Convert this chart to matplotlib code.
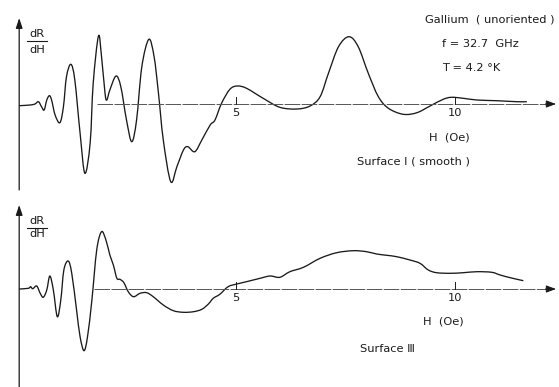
import numpy as np
import matplotlib
matplotlib.use("Agg")
import matplotlib.pyplot as plt
from matplotlib.path import Path
from matplotlib.patches import PathPatch

# Surface I (smooth) -- H in Oe, dR/dH in arbitrary units
h_top = [0.05, 0.30, 0.41, 0.49, 0.56, 0.62, 0.68, 0.74, 0.79, 0.87, 0.98, 1.06, 1.13, 1.23,
         1.32, 1.44, 1.55, 1.67, 1.74, 1.86, 1.93, 2.01, 2.05, 2.12, 2.26, 2.37, 2.50, 2.62,
         2.73, 2.85, 3.01, 3.13, 3.23, 3.34, 3.51, 3.65, 3.80, 3.90, 4.06, 4.22, 4.41, 4.52,
         4.67, 4.86, 5.03, 5.24, 5.62, 6.00, 6.39, 6.69, 6.92, 7.11, 7.34, 7.58, 7.79, 8.02,
         8.25, 8.48, 8.82, 9.13, 9.43, 9.73, 9.92, 10.19, 10.50, 10.95, 11.41, 11.64]
r_top = [-0.17, -0.10, 0.0, 0.23, -0.27, -0.60, 0.40, 0.83, 0.40, -1.10, -1.87, -0.27, 2.73, 3.97,
         2.40, -2.90, -6.93, -3.90, 2.07, 6.80, 4.73, 1.07, 0.40, 1.40, 2.80, 1.73, -1.60, -3.77,
         -1.60, 3.73, 6.47, 4.73, 1.07, -3.60, -7.77, -6.27, -4.60, -4.27, -4.77, -3.60, -2.10, -1.60,
         0.07, 1.47, 1.80, 1.57, 0.57, -0.33, -0.50, -0.20, 0.73, 3.07, 5.73, 6.73, 5.73, 3.07,
         0.73, -0.43, -1.03, -0.87, -0.20, 0.47, 0.67, 0.57, 0.40, 0.33, 0.23, 0.23]

# Surface III
h_bot = [0.05, 0.26, 0.31, 0.36, 0.45, 0.53, 0.60, 0.68, 0.75, 0.83, 0.92, 1.00, 1.07, 1.17,
         1.25, 1.36, 1.44, 1.53, 1.61, 1.71, 1.82, 1.93, 2.03, 2.12, 2.20, 2.28, 2.35, 2.44,
         2.54, 2.66, 2.81, 2.96, 3.11, 3.34, 3.57, 3.80, 4.03, 4.22, 4.37, 4.48, 4.63, 4.82,
         5.02, 5.24, 5.55, 5.78, 6.00, 6.23, 6.54, 6.92, 7.30, 7.68, 7.98, 8.21, 8.44, 8.67,
         8.97, 9.20, 9.39, 9.58, 9.89, 10.19, 10.50, 10.84, 11.03, 11.26, 11.56]
r_bot = [0.0, 0.07, 0.23, 0.03, 0.30, -0.43, -0.83, -0.10, 1.30, -0.10, -2.77, -1.10, 1.90, 2.80,
         1.57, -2.10, -4.77, -6.17, -4.77, -1.10, 3.90, 5.73, 4.90, 3.40, 2.40, 1.07, 0.97, 0.63,
         -0.27, -0.77, -0.43, -0.37, -0.77, -1.60, -2.17, -2.33, -2.27, -2.03, -1.50, -0.93, -0.53, 0.23,
         0.50, 0.73, 1.07, 1.30, 1.17, 1.73, 2.17, 3.07, 3.63, 3.83, 3.73, 3.50, 3.37, 3.23,
         2.90, 2.57, 1.90, 1.63, 1.57, 1.63, 1.73, 1.67, 1.40, 1.13, 0.83]

tick_h = [5, 10]
tick_labels = ["5", "10"]


def smooth_path(x, y):
    # draw the curve through the read points as a Catmull-Rom style bezier path
    x = np.asarray(x, float)
    y = np.asarray(y, float)
    verts = [(x[0], y[0])]
    codes = [Path.MOVETO]
    n = len(x)
    for i in range(n - 1):
        x0, y0 = (x[i - 1], y[i - 1]) if i > 0 else (x[i], y[i])
        x3, y3 = (x[i + 2], y[i + 2]) if i + 2 < n else (x[i + 1], y[i + 1])
        c1 = (x[i] + (x[i + 1] - x0) / 6, y[i] + (y[i + 1] - y0) / 6)
        c2 = (x[i + 1] - (x3 - x[i]) / 6, y[i + 1] - (y3 - y[i]) / 6)
        verts += [c1, c2, (x[i + 1], y[i + 1])]
        codes += [Path.CURVE4] * 3
    return Path(verts, codes)


plt.rcParams['font.family'] = ['DejaVu Sans']
fig = plt.figure(figsize=(5.59, 3.87), dpi=100)

xlim = (-0.388, 12.374)
panels = [
    dict(h=h_top, r=r_top, pos=[0, 1 - 193 / 387, 1, 193 / 387], ylim=(-8.9, 10.4),
         base_from=1.83, yaxis=(-8.6, 8.6), frac=(7.0, 6.3, 5.4),
         tick_y=-0.9, xlab=(9.86, -3.3), surf=(9.06, -5.7, "Surface Ⅰ ( smooth )")),
    dict(h=h_bot, r=r_bot, pos=[0, 0, 1, 194 / 387], ylim=(-9.8, 9.6),
         base_from=1.76, yaxis=(-9.8, 8.4), frac=(6.75, 6.15, 5.5),
         tick_y=-0.9, xlab=(9.73, -3.2), surf=(8.47, -6.0, "Surface Ⅲ")),
]

ink = "#1a1a1a"
fs = 8.2

for p in panels:
    ax = fig.add_axes(p["pos"])
    ax.set_xlim(*xlim)
    ax.set_ylim(*p["ylim"])
    ax.set_axis_off()

    # baseline (zero level) drawn as a long-dashed line with an arrow at the end
    ax.plot([p["base_from"], 12.2], [0, 0], color="#555555", lw=0.7,
            linestyle=(0, (16, 1.5)))
    ax.annotate("", xy=(12.37, 0), xytext=(12.0, 0),
                arrowprops=dict(arrowstyle="-|>,head_length=0.6,head_width=0.22",
                                color=ink, lw=0.7))

    # vertical axis with arrow
    y0, y1 = p["yaxis"]
    ax.annotate("", xy=(0.05, y1), xytext=(0.05, y0),
                arrowprops=dict(arrowstyle="-|>,head_length=0.6,head_width=0.2",
                                color=ink, lw=0.9, shrinkA=0, shrinkB=0))

    # dR/dH label
    fr_top, fr_line, fr_bot = p["frac"]
    ax.text(0.46, fr_top, "dR", fontsize=fs, ha="center", va="center", color=ink)
    ax.plot([0.22, 0.68], [fr_line, fr_line], color=ink, lw=0.8)
    ax.text(0.46, fr_bot, "dH", fontsize=fs, ha="center", va="center", color=ink)

    # ticks
    for th, tl in zip(tick_h, tick_labels):
        ax.plot([th, th], [0, 0.7], color=ink, lw=0.7)
        ax.text(th, p["tick_y"], tl, fontsize=fs, ha="center", va="center", color=ink)

    # curve
    ax.add_patch(PathPatch(smooth_path(p["h"], p["r"]), facecolor="none",
                           edgecolor=ink, lw=0.95, joinstyle="round"))

    ax.text(p["xlab"][0], p["xlab"][1], "H  (Oe)", fontsize=fs, ha="center",
            va="center", color=ink)
    sx, sy, st = p["surf"]
    ax.text(sx, sy, st, fontsize=fs, ha="center", va="center", color=ink)

    if p is panels[0]:
        ax.text(10.8, 8.5, "Gallium  ( unoriented )", fontsize=fs, ha="center",
                va="center", color=ink)
        ax.text(9.70, 6.0, "f = 32.7  GHz", fontsize=fs, ha="left", va="center", color=ink)
        ax.text(9.70, 3.6, "T = 4.2 °K", fontsize=fs, ha="left", va="center", color=ink)

fig.savefig("out.png", dpi=100)
